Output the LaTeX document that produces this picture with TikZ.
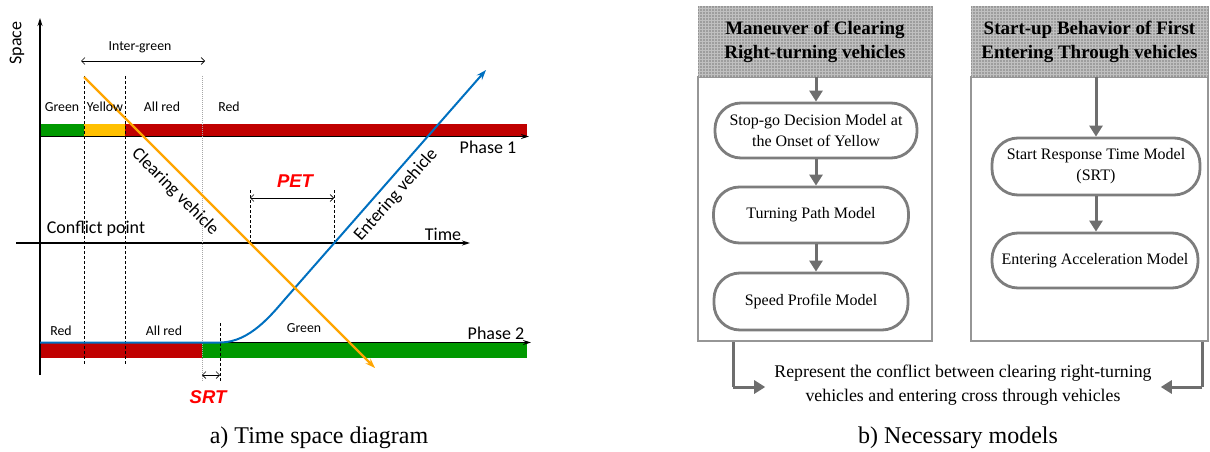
\documentclass[tikz,border=0pt]{standalone}
\usepackage{fontspec}
\setmainfont{Liberation Serif}
\newfontfamily\calib{Carlito}
\newfontfamily\arialf{Liberation Sans}
\usetikzlibrary{arrows.meta,patterns}
\definecolor{pGreen}{RGB}{0,153,0}
\definecolor{pYellow}{RGB}{255,192,0}
\definecolor{pRed}{RGB}{192,0,0}
\definecolor{orangeL}{RGB}{255,165,0}
\definecolor{blueL}{RGB}{0,112,192}
\definecolor{hotRed}{RGB}{255,0,0}
\definecolor{hdrfill}{RGB}{158,158,158}
\definecolor{hdrgrid}{RGB}{192,192,192}
\definecolor{boxgray}{RGB}{150,150,150}
\definecolor{modgray}{RGB}{125,125,125}
\definecolor{arrgray}{RGB}{110,110,110}
\begin{document}
\begin{tikzpicture}[x=1pt,y=-1pt,
  lbl/.style={font=\calib\fontsize{13.8}{16}\selectfont, inner sep=0},
  big/.style={font=\calib\fontsize{18}{21}\selectfont, inner sep=0},
  redlbl/.style={font=\arialf\bfseries\itshape\fontsize{18.5}{20}\selectfont, text=hotRed, inner sep=0},
  dim/.style={{Straight Barb[length=3.5pt,width=7pt]}-{Straight Barb[length=3.5pt,width=7pt]}, line width=0.6pt},
  guide/.style={line width=0.6pt, dash pattern=on 3pt off 2pt},
  dotguide/.style={line width=0.8pt, gray!70, dash pattern=on 1pt off 1pt},
  axis/.style={line width=1.2pt, -{Stealth[length=8pt,width=5pt]}},
  vehicle/.style={line width=2pt, -{Stealth[length=10pt,width=7pt]}},
  model/.style={rectangle, rounded corners=26pt, draw=modgray, line width=2.8pt, fill=white,
    font=\fontsize{16}{21}\selectfont, align=center, inner sep=0},
  flow/.style={draw=arrgray, line width=3pt, -{Triangle[length=11pt,width=13pt]}},
  hdr/.style={rectangle, minimum width=234pt, minimum height=70pt, fill=hdrfill,
    postaction={pattern=grid, pattern color=hdrgrid}, draw=boxgray, line width=1pt,
    font=\bfseries\fontsize{19}{24}\selectfont, align=center, inner sep=0},
  body/.style={rectangle, draw=boxgray, line width=2.8pt, inner sep=0},
  caption/.style={font=\fontsize{24}{28}\selectfont, inner sep=0}
]
\useasboundingbox (0,0) rectangle (1210,452);

% ---------------- a) Time space diagram ----------------
% phase 1 bar
\fill[pGreen] (40,124) rectangle (84,136.5);
\fill[pYellow] (84,124) rectangle (125,136.5);
\fill[pRed] (125,124) rectangle (527,136.5);
% phase 2 bar
\fill[pRed] (40,343) rectangle (202,358);
\fill[pGreen] (202,343) rectangle (527,358);

% coordinates
\coordinate (sp0) at (40,375);
\coordinate (sp1) at (40,18);
\coordinate (t0) at (16,243);
\coordinate (t1) at (470,243);
\coordinate (p10) at (40,136.5);
\coordinate (p11) at (529,136.5);
\coordinate (p20) at (40,342.5);
\coordinate (p21) at (531,342.5);

% axes
\draw[axis] (sp0) -- (sp1);
\draw[axis] (t0) -- (t1);
\draw[axis] (p10) -- (p11);
\draw[axis] (p20) -- (p21);

% guide lines
\coordinate (g1a) at (84,76);   \coordinate (g1b) at (84,365);
\coordinate (g2a) at (125,76);  \coordinate (g2b) at (125,365);
\coordinate (g3a) at (202,76);  \coordinate (g3b) at (202,382);
\coordinate (g4a) at (220,323); \coordinate (g4b) at (220,382);
\coordinate (g5a) at (250,190); \coordinate (g5b) at (250,243);
\coordinate (g6a) at (334,190); \coordinate (g6b) at (334,243);
\draw[guide] (g1a) -- (g1b);
\draw[guide] (g2a) -- (g2b);
\draw[dotguide] (g3a) -- (g3b);
\draw[guide] (g4a) -- (g4b);
\draw[guide] (g5a) -- (g5b);
\draw[guide] (g6a) -- (g6b);

% dimension arrows
\coordinate (ig0) at (81,61);  \coordinate (ig1) at (205,61);
\coordinate (pe0) at (250,198); \coordinate (pe1) at (334,198);
\coordinate (sr0) at (202,375); \coordinate (sr1) at (220,375);
\draw[dim] (ig0) -- (ig1);
\draw[dim] (pe0) -- (pe1);
\draw[dim] (sr0) -- (sr1);

% vehicles
\coordinate (ev0) at (40,342.5);
\coordinate (ev1) at (220,342.5);
\coordinate (ev2) at (286,298);
\coordinate (ev3) at (486,70);
\draw[vehicle, blueL] (ev0) -- (ev1) .. controls (250,342.5) and (272,314) .. (ev2) -- (ev3);
\coordinate (cv0) at (84,77);
\coordinate (cv1) at (375,368);
\draw[vehicle, orangeL, line width=2.4pt] (cv0) -- (cv1);

% labels
\node[big, rotate=90] (space) at (17,43) {Space};
\node[lbl] (intergreen) at (140,47) {Inter-green};
\node[lbl] (l1g) at (62,107) {Green};
\node[lbl] (l1y) at (105,107) {Yellow};
\node[lbl] (l1ar) at (162,107) {All red};
\node[lbl] (l1r) at (229,107) {Red};
\node[big] (ph1) at (488,147) {Phase 1};
\node[big] (cp) at (96,229) {Conflict point};
\node[big] (time) at (443,234) {Time};
\node[big, rotate=-45] (clear) at (175,192) {Clearing vehicle};
\node[big, rotate=48.7] (enter) at (396,195) {Entering vehicle};
\node[redlbl] (pet) at (295,181) {PET};
\node[lbl] (l2r) at (61,331) {Red};
\node[lbl] (l2ar) at (164,331) {All red};
\node[lbl] (l2g) at (304,328) {Green};
\node[big] (ph2) at (496,333) {Phase 2};
\node[redlbl] (srt) at (208,397) {SRT};
\node[caption] (capa) at (319,438) {a) Time space diagram};

% ---------------- b) Necessary models ----------------
\node[body, minimum width=234pt, minimum height=264pt] (bodyL) at (815,209) {};
\node[body, minimum width=237pt, minimum height=264pt] (bodyR) at (1089.5,209) {};
\node[hdr] (hdrL) at (815,42) {Maneuver of Clearing\\Right-turning vehicles};
\node[hdr, minimum width=237pt] (hdrR) at (1089.5,42) {Start-up Behavior of First\\Entering Through vehicles};

\node[model, minimum width=202pt, minimum height=55pt] (stopgo) at (816,130.5) {Stop-go Decision Model at\\the Onset of Yellow};
\node[model, minimum width=195pt, minimum height=56pt] (turning) at (811,215) {Turning Path Model};
\node[model, minimum width=194pt, minimum height=57pt] (speed) at (811,301.5) {Speed Profile Model};
\node[model, minimum width=208pt, minimum height=57pt] (srtm) at (1096,166.5) {Start Response Time Model\\(SRT)};
\node[model, minimum width=206pt, minimum height=55pt] (accel) at (1095,260.5) {Entering Acceleration Model};

\draw[flow] (stopgo.north |- hdrL.south) -- (stopgo.north);
\draw[flow] (stopgo.south) -- (stopgo.south |- turning.north);
\draw[flow] (stopgo.south |- turning.south) -- (stopgo.south |- speed.north);
\draw[flow] (srtm.north |- hdrR.south) -- (srtm.north);
\draw[flow] (srtm.south) -- (srtm.south |- accel.north);

\node[font=\fontsize{17.8}{24}\selectfont, align=center, inner sep=9pt] (repr) at (963,385)
  {Represent the conflict between clearing right-turning\\vehicles and entering cross through vehicles};
\coordinate (lbend) at (733,387);
\coordinate (rbend) at (1202,387);
\draw[flow, -] (lbend |- bodyL.south) -- (lbend);
\draw[flow] (lbend) -- (repr.west |- lbend);
\draw[flow, -] (rbend |- bodyR.south) -- (rbend);
\draw[flow] (rbend) -- (repr.east |- rbend);

\node[caption] (capb) at (958,438) {b) Necessary models};
\end{tikzpicture}
\end{document}
